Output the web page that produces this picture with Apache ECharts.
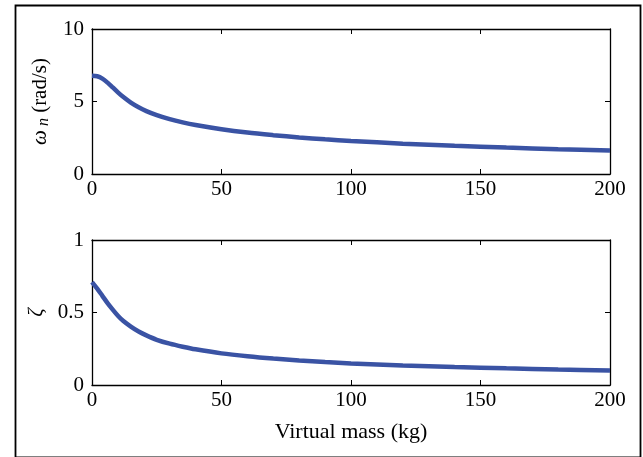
<!DOCTYPE html>
<html>
<head>
<meta charset="utf-8">
<script src="https://cdn.jsdelivr.net/npm/echarts@6/dist/echarts.min.js"></script>
<style>
  html, body { margin: 0; padding: 0; background: #fff; }
  #chart { width: 643px; height: 457px; }
</style>
</head>
<body>
<div id="chart"></div>
<script>
// Virtual mass values (kg) at which the response was evaluated
const mass = [0, 2, 4, 6, 8, 10, 12, 15, 18, 21, 25, 30, 35, 40, 50, 60, 70, 80, 90, 100, 120, 140, 160, 180, 200];
// Natural frequency (rad/s)
const omegaN = [6.78, 6.74, 6.58, 6.3, 5.97, 5.63, 5.32, 4.92, 4.6, 4.34, 4.06, 3.78, 3.56, 3.38, 3.09, 2.86, 2.68, 2.52, 2.39, 2.28, 2.09, 1.94, 1.82, 1.71, 1.62];
// Damping ratio
const zeta = [0.71, 0.665, 0.615, 0.565, 0.52, 0.478, 0.443, 0.403, 0.369, 0.342, 0.312, 0.285, 0.264, 0.246, 0.218, 0.198, 0.182, 0.169, 0.158, 0.149, 0.135, 0.124, 0.115, 0.107, 0.1];

const xTicks = { min: 0, max: 200, interval: 50 };
const omegaTicks = { min: 0, max: 10, interval: 5 };
const zetaTicks = { min: 0, max: 1, interval: 0.5 };

const FONT = '"Liberation Serif", "Times New Roman", serif';
const FS = 21;
const LINE_COLOR = '#3a53a4';

const pair = (xs, ys) => xs.map((x, i) => [x, ys[i]]);

const labelStyle = { color: '#000', fontFamily: FONT, fontSize: FS };
const axisLine = { show: true, onZero: false, lineStyle: { color: '#000', width: 1.3 } };
const tick = { show: true, inside: true, length: 5, lineStyle: { color: '#000', width: 1 } };

function xAxisPair(gridIndex, withName) {
  return [
    {
      type: 'value', gridIndex, position: 'bottom', ...xTicks,
      axisLine, axisTick: tick, splitLine: { show: false },
      axisLabel: { ...labelStyle, margin: 5 },
      name: withName ? 'Virtual mass (kg)' : '',
      nameLocation: 'middle', nameGap: 36,
      nameTextStyle: { ...labelStyle, fontSize: 22 }
    },
    {
      type: 'value', gridIndex, position: 'top', ...xTicks,
      axisLine, axisTick: tick, splitLine: { show: false },
      axisLabel: { show: false }
    }
  ];
}

function yAxisPair(gridIndex, ticks, name, gap) {
  return [
    {
      type: 'value', gridIndex, position: 'left', ...ticks,
      axisLine, axisTick: tick, splitLine: { show: false },
      axisLabel: { ...labelStyle, margin: 8 },
      name, nameLocation: 'middle', nameGap: gap, nameRotate: 90,
      nameTextStyle: {
        ...labelStyle,
        rich: {
          it: { fontFamily: FONT, fontSize: FS, fontStyle: 'italic', color: '#000' },
          sub: { fontFamily: FONT, fontSize: 16, fontStyle: 'italic', color: '#000', padding: [7, 0, 0, 0] },
          rm: { fontFamily: FONT, fontSize: FS, color: '#000' }
        }
      }
    },
    {
      type: 'value', gridIndex, position: 'right', ...ticks,
      axisLine, axisTick: tick, splitLine: { show: false },
      axisLabel: { show: false }
    }
  ];
}

const chart = echarts.init(document.getElementById('chart'), null, { renderer: 'canvas' });

chart.setOption({
  animation: false,
  backgroundColor: '#fff',
  graphic: [{
    type: 'rect', left: 13, top: 3, z: 100, silent: true,
    shape: { width: 625, height: 452 },
    style: { fill: 'none', stroke: '#000', lineWidth: 1.8 }
  }],
  grid: [
    { left: 92, top: 29, width: 518, height: 145 },
    { left: 92, top: 240, width: 518, height: 145 }
  ],
  xAxis: [...xAxisPair(0, false), ...xAxisPair(1, true)],
  yAxis: [
    ...yAxisPair(0, omegaTicks, '{it|ω}{sub| n} {rm|(rad/s)}', 30),
    ...yAxisPair(1, zetaTicks, '{it|ζ}', 43)
  ],
  series: [
    {
      type: 'line', xAxisIndex: 0, yAxisIndex: 0,
      data: pair(mass, omegaN), smooth: 0.3,
      showSymbol: false, lineStyle: { color: LINE_COLOR, width: 4.5 }
    },
    {
      type: 'line', xAxisIndex: 2, yAxisIndex: 2,
      data: pair(mass, zeta), smooth: 0.3,
      showSymbol: false, lineStyle: { color: LINE_COLOR, width: 4.5 }
    }
  ]
});
</script>
</body>
</html>
